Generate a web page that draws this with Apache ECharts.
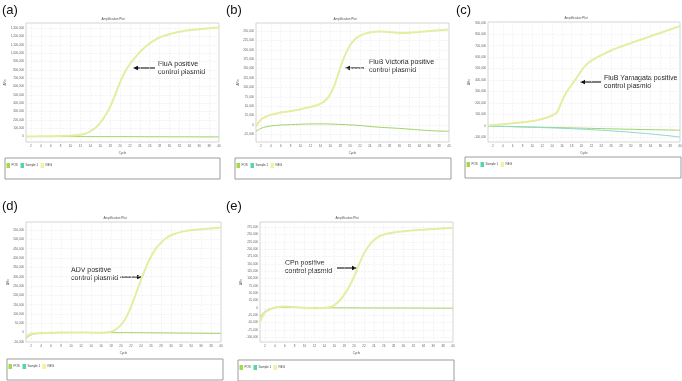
<!DOCTYPE html>
<html>
<head>
<meta charset="utf-8">
<script src="https://cdn.jsdelivr.net/npm/echarts@6/dist/echarts.min.js"></script>
<style>
html, body { margin: 0; padding: 0; background: #fff; }
#chart { width: 682px; height: 381px; }
</style>
</head>
<body>
<div id="chart"></div>
<script>
var cycles = [1, 2, 3, 4, 5, 6, 7, 8, 9, 10, 11, 12, 13, 14, 15, 16, 17, 18, 19, 20,
    21, 22, 23, 24, 25, 26, 27, 28, 29, 30, 31, 32, 33, 34, 35, 36, 37, 38, 39, 40];
var cycleTicks = [2, 4, 6, 8, 10, 12, 14, 16, 18, 20, 22, 24, 26, 28, 30, 32, 34, 36, 38, 40];

// (a) FluA
var posA = [3000, 3000, 3500, 4000, 5000, 6000, 7000, 8500, 11000, 13000,
    16000, 22000, 35000, 65000, 105000, 165000, 250000, 360000, 500000, 650000,
    780000, 870000, 945000, 1015000, 1070000, 1120000, 1158000, 1190000, 1212000, 1230000,
    1245000, 1260000, 1270000, 1278000, 1284000, 1290000, 1296000, 1301000, 1306000, 1310000];
var negA = [2500, 2000, 1800, 1500, 1500, 1200, 1000, 1000, 800, 800,
    600, 500, 500, 400, 300, 200, 200, 0, 0, -200,
    -300, -400, -500, -600, -800, -1000, -1200, -1300, -1500, -1600,
    -1800, -2000, -2100, -2200, -2400, -2500, -2600, -2800, -3000, -3000];
var ticksA = [0, 100000, 200000, 300000, 400000, 500000, 600000, 700000, 800000, 900000,
    1000000, 1100000, 1200000, 1300000];

// (b) FluB Victoria
var posB = [-5000, 15000, 22000, 27000, 30000, 33000, 35000, 37000, 39000, 42000,
    45000, 48000, 51000, 56000, 65000, 82000, 111000, 151000, 186000, 212000,
    228000, 237000, 243000, 246000, 248000, 248500, 248000, 247000, 246000, 245000,
    245000, 245500, 246500, 247500, 248500, 250000, 251000, 252000, 253000, 254000];
var negB = [-17000, -9000, -5000, -2500, -1000, 0, 500, 1000, 1500, 2000,
    2500, 2800, 3000, 3000, 2800, 2500, 2000, 1500, 1000, 300,
    -300, -1200, -2500, -4000, -5000, -6000, -6800, -7500, -8300, -9000,
    -10000, -11000, -12000, -13000, -14000, -14800, -15500, -16000, -16500, -17000];
var ticksB = [-25000, 0, 25000, 50000, 75000, 100000, 125000, 150000, 175000, 200000, 225000, 250000];

// (c) FluB Yamagata
var posC = [6000, 9000, 13000, 17000, 21000, 25000, 29000, 33000, 38000, 44000,
    52000, 62000, 75000, 92000, 120000, 215000, 300000, 360000, 420000, 485000,
    535000, 570000, 595000, 617000, 638000, 658000, 676000, 692000, 707000, 722000,
    737000, 752000, 767000, 782000, 797000, 811000, 826000, 841000, 856000, 871000];
var negC = [1000, 0, -1000, -2000, -2500, -3500, -4500, -5500, -6500, -7500,
    -8500, -9500, -10500, -11500, -12500, -13500, -14500, -15500, -16500, -17500,
    -18500, -19500, -20500, -21500, -22500, -23500, -24500, -25500, -26500, -27000,
    -28000, -29000, -30000, -30500, -31500, -32000, -33000, -33500, -34500, -35000];
var sampleC = [0, -1000, -2000, -3000, -4200, -5400, -6600, -7800, -9000, -10200,
    -11400, -12600, -14000, -15400, -16800, -18600, -20400, -22200, -24000, -26000,
    -28000, -30500, -33000, -35500, -38000, -41000, -44000, -47000, -50000, -53500,
    -57000, -60500, -64000, -68000, -72000, -76000, -80000, -85000, -90000, -95000];
var ticksC = [-100000, 0, 100000, 200000, 300000, 400000, 500000, 600000, 700000, 800000, 900000];

// (d) ADV
var posD = [-21000, -7000, -4000, -3000, -1500, -500, 0, 500, 800, 1000,
    1000, 800, 500, 0, -500, 0, 1500, 5000, 18000, 42000,
    80000, 138000, 210000, 282000, 350000, 408000, 452000, 482000, 506000, 522000,
    532000, 540000, 545000, 549000, 552000, 554500, 556500, 558500, 561000, 564000];
var negD = [-30000, -12000, -5000, -2500, -1500, -800, -300, 0, 300, 500,
    600, 700, 700, 600, 500, 400, 300, 200, 100, 0,
    -100, -200, -400, -600, -800, -1000, -1200, -1400, -1600, -1800,
    -2000, -2200, -2400, -2600, -2800, -3000, -3200, -3400, -3600, -3800];
var ticksD = [-50000, 0, 50000, 100000, 150000, 200000, 250000, 300000, 350000, 400000, 450000, 500000, 550000];

// (e) CPn
var posE = [-47000, -16000, -5000, 1000, 3500, 5000, 4500, 3500, 2000, 500,
    -500, -1000, -500, 0, 2500, 10000, 23000, 45000, 72000, 106000,
    148000, 186000, 212000, 231000, 243000, 250000, 254500, 257500, 259500, 261500,
    263000, 264500, 266000, 267000, 268000, 269000, 270000, 271000, 272000, 273000];
var negE = [-30000, -12000, -3000, 1000, 2000, 2000, 2000, 1800, 1500, 1200,
    1000, 900, 800, 700, 600, 500, 500, 400, 400, 300,
    300, 200, 200, 100, 100, 0, 0, 0, -100, -100,
    -200, -200, -300, -300, -400, -400, -500, -500, -600, -600];
var ticksE = [-100000, -75000, -50000, -25000, 0, 25000, 50000, 75000, 100000, 125000, 150000,
    175000, 200000, 225000, 250000, 275000];

var legendNames = ["POS", "Sample 1", "NEG"];
var legendColors = ["#a5d94a", "#57d6a3", "#f3f1a0"];

var panels = [
    { letter: "(a)", lx: 2, ly: 4, grid: { left: 26, top: 23, width: 193, height: 119 }, yMin: -64000, yMax: 1364000,
      ticks: ticksA, pos: posA, neg: negA, nameGap: 16, titleX: 113,
      note: ["FluA positive", "control plasmid"], noteX: 158, noteY: 64, arrow: [155, 133, 68],
      box: [5, 158, 215, 21] },
    { letter: "(b)", lx: 226, ly: 4, grid: { left: 256, top: 23, width: 193, height: 119 }, yMin: -45200, yMax: 271300,
      ticks: ticksB, pos: posB, neg: negB, nameGap: 16, titleX: 345,
      note: ["FluB Victoria positive", "control plasmid"], noteX: 369, noteY: 62, arrow: [364, 345, 68],
      box: [235, 158, 216, 21] },
    { letter: "(c)", lx: 456, ly: 4, grid: { left: 488, top: 22, width: 192, height: 120 }, yMin: -138000, yMax: 906000,
      ticks: ticksC, pos: posC, neg: negC, sample: sampleC, nameGap: 17, titleX: 576,
      note: ["FluB Yamagata positive", "control plasmid"], noteX: 604, noteY: 78, arrow: [601, 580, 82],
      box: [465, 157, 216, 21] },
    { letter: "(d)", lx: 2, ly: 200, grid: { left: 26, top: 222, width: 195, height: 120 }, yMin: -50000, yMax: 593000,
      ticks: ticksD, pos: posD, neg: negD, nameGap: 15, titleX: 115,
      note: ["ADV positive", "control plasmid"], noteX: 71, noteY: 270, arrow: [120, 142, 277],
      box: [7, 359, 216, 21] },
    { letter: "(e)", lx: 226, ly: 200, grid: { left: 260, top: 222, width: 193, height: 120 }, yMin: -116000, yMax: 293000,
      ticks: ticksE, pos: posE, neg: negE, nameGap: 17, titleX: 347,
      note: ["CPn positive", "control plasmid"], noteX: 285, noteY: 263, arrow: [337, 357, 268],
      box: [238, 360, 216, 21] }
];

var font = "Liberation Sans, Arial, sans-serif";
var grids = [], xAxes = [], yAxes = [], series = [], graphics = [];

function pairs(vals) {
    return cycles.map(function (c, j) { return [c, vals[j]]; });
}

panels.forEach(function (p, i) {
    var g = p.grid;
    grids.push({
        left: g.left, top: g.top, width: g.width, height: g.height,
        show: true, backgroundColor: "#fff", borderColor: "#c9c9c9", borderWidth: 0.8,
        outerBoundsMode: "none"
    });
    xAxes.push({
        type: "value", gridIndex: i, min: 1, max: 40,
        name: "Cycle", nameLocation: "middle", nameGap: 10,
        nameTextStyle: { fontSize: 3, color: "#555", fontFamily: font },
        axisLine: { show: false },
        axisTick: { show: false, customValues: cycleTicks },
        axisLabel: { customValues: cycleTicks, fontSize: 3, color: "#666", margin: 3, fontFamily: font },
        splitLine: { show: true, lineStyle: { color: "#ececec", width: 0.6, type: "dashed" } }
    });
    yAxes.push({
        type: "value", gridIndex: i, min: p.yMin, max: p.yMax,
        name: "ΔRn", nameLocation: "middle", nameGap: p.nameGap,
        nameTextStyle: { fontSize: 3, color: "#555", fontFamily: font },
        axisLine: { show: false },
        axisTick: { show: false, customValues: p.ticks },
        axisLabel: {
            customValues: p.ticks, fontSize: 3, color: "#666", margin: 2, fontFamily: font,
            formatter: function (v) { return echarts.format.addCommas(v); }
        },
        splitLine: { show: true, lineStyle: { color: "#ececec", width: 0.6, type: "dashed" } }
    });
    series.push({
        name: "NEG", type: "line", xAxisIndex: i, yAxisIndex: i, data: pairs(p.neg),
        smooth: 0.35, showSymbol: false, silent: true,
        lineStyle: { color: "#9fd46a", width: 1 }, z: 2
    });
    if (p.sample) {
        series.push({
            name: "Sample 1", type: "line", xAxisIndex: i, yAxisIndex: i, data: pairs(p.sample),
            smooth: 0.35, showSymbol: false, silent: true,
            lineStyle: { color: "#8fd8cf", width: 1 }, z: 2
        });
    }
    series.push({
        name: "POS", type: "line", xAxisIndex: i, yAxisIndex: i, data: pairs(p.pos),
        smooth: 0.35, showSymbol: false, silent: true,
        lineStyle: { color: "#e4eda0", width: 2 }, z: 3
    });

    // panel letter and plot title
    graphics.push({ type: "text", x: p.lx, y: p.ly, style: { text: p.letter, fontSize: 13, fontFamily: font, fill: "#111" } });
    graphics.push({ type: "text", x: p.titleX, y: g.top - 4, style: { text: "Amplification Plot", fontSize: 3, fontFamily: font, fill: "#555", align: "center", verticalAlign: "middle" } });

    // annotation
    graphics.push({ type: "text", x: p.noteX, y: p.noteY, style: { text: p.note[0], fontSize: 7, fontFamily: font, fill: "#222", verticalAlign: "middle" } });
    graphics.push({ type: "text", x: p.noteX, y: p.noteY + 8.5, style: { text: p.note[1], fontSize: 7, fontFamily: font, fill: "#222", verticalAlign: "middle" } });
    var a = p.arrow, dir = a[1] < a[0] ? -1 : 1;
    graphics.push({ type: "line", shape: { x1: a[0], y1: a[2], x2: a[1] - dir * 4, y2: a[2] }, style: { stroke: "#111", lineWidth: 1.1 } });
    graphics.push({ type: "polygon", shape: { points: [[a[1], a[2]], [a[1] - dir * 5, a[2] - 2.3], [a[1] - dir * 5, a[2] + 2.3]] }, style: { fill: "#111" } });

    // legend box
    var b = p.box;
    graphics.push({ type: "rect", shape: { x: b[0], y: b[1], width: b[2], height: b[3] }, style: { fill: "none", stroke: "#9c9c9c", lineWidth: 1 } });
    var offs = [1.5, 15.5, 35.5];
    legendNames.forEach(function (n, k) {
        graphics.push({ type: "rect", shape: { x: b[0] + offs[k], y: b[1] + 5, width: 3.5, height: 5 }, style: { fill: legendColors[k] } });
        graphics.push({ type: "text", x: b[0] + offs[k] + 5, y: b[1] + 7.5, style: { text: n, fontSize: 3, fontFamily: font, fill: "#444", verticalAlign: "middle" } });
    });
});

var chart = echarts.init(document.getElementById("chart"));
chart.setOption({
    backgroundColor: "#fff",
    animation: false,
    grid: grids,
    xAxis: xAxes,
    yAxis: yAxes,
    series: series,
    graphic: graphics
});
</script>
</body>
</html>
